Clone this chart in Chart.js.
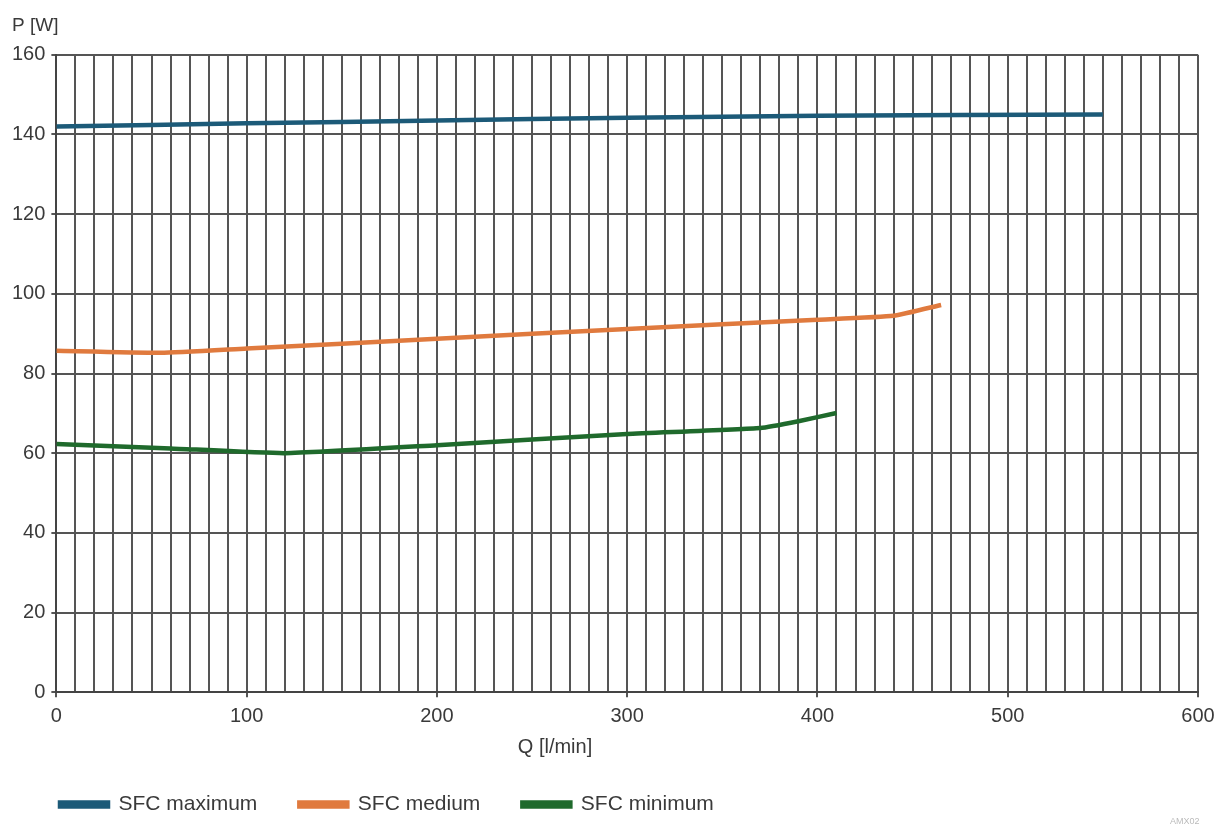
<!DOCTYPE html>
<html>
<head>
<meta charset="utf-8">
<script src="https://cdn.jsdelivr.net/npm/chart.js@4.4.1/dist/chart.umd.min.js"></script>
<style>
  html, body { margin: 0; padding: 0; background: #fff; }
  #wrap { width: 1220px; height: 825px; }
</style>
</head>
<body>
<div id="wrap"><canvas id="pumpChart" width="1220" height="825"></canvas></div>
<script>
// flow Q [l/min] and power P [W]
const qMax = [0, 100, 200, 300, 400, 550];
const pMax = [142.0, 142.8, 143.5, 144.2, 144.7, 145.0];

const qMed = [0, 55, 100, 200, 300, 400, 440, 465];
const pMed = [85.7, 85.2, 86.3, 88.7, 91.2, 93.5, 94.5, 97.2];

const qMin = [0, 60, 120, 200, 300, 370, 390, 410];
const pMin = [62.3, 61.2, 60.0, 62.0, 64.8, 66.3, 68.0, 70.1];

const xTicks = [0, 100, 200, 300, 400, 500, 600];
const yTicks = [0, 20, 40, 60, 80, 100, 120, 140, 160];

function pts(xs, ys) {
    return xs.map(function (x, i) { return { x: x, y: ys[i] }; });
}

const textColor = '#3a3a3a';
const family = "'Liberation Sans', Arial, sans-serif";
const font = { family: family, size: 20 };

// x axis title sits left of centre in the original, plus the small code bottom right
const extraText = {
    id: 'extraText',
    afterLayout: function (chart) {
        // legend and "P [W]" start a bit further right than the y labels
        chart.legend.left += 12;
        chart.titleBlock.left += 6;
    },
    afterDraw: function (chart) {
        const c = chart.ctx;
        c.save();
        c.fillStyle = textColor;
        c.font = "20px " + family;
        c.textAlign = 'center';
        c.textBaseline = 'middle';
        c.fillText('Q [l/min]', 555, 747);
        c.fillStyle = '#bbb';
        c.font = "9px " + family;
        c.textAlign = 'left';
        c.fillText('AMX02', 1170, 822);
        c.restore();
    }
};

const ctx = document.getElementById('pumpChart').getContext('2d');
const chart = new Chart(ctx, {
    type: 'line',
    data: {
        datasets: [
            { label: 'SFC maximum', data: pts(qMax, pMax), borderColor: '#1c5a78', backgroundColor: '#1c5a78' },
            { label: 'SFC medium', data: pts(qMed, pMed), borderColor: '#e07a3e', backgroundColor: '#e07a3e' },
            { label: 'SFC minimum', data: pts(qMin, pMin), borderColor: '#1f6a2c', backgroundColor: '#1f6a2c' }
        ]
    },
    options: {
        responsive: false,
        animation: false,
        layout: { padding: { left: 6, right: 22, top: 0, bottom: 0 } },
        elements: {
            line: { borderWidth: 4.5, tension: 0.15 },
            point: { radius: 0 }
        },
        scales: {
            x: {
                type: 'linear',
                min: 0, max: 600,
                ticks: {
                    stepSize: 10,
                    autoSkip: false,
                    color: textColor,
                    font: font,
                    maxRotation: 0,
                    padding: 7,
                    callback: function (v) { return xTicks.includes(v) ? String(v) : ''; }
                },
                grid: {
                    color: '#555',
                    lineWidth: 2,
                    tickLength: 5,
                    tickColor: function (c) { return xTicks.includes(c.tick.value) ? '#555' : 'rgba(0,0,0,0)'; }
                },
                border: { color: '#444', width: 2 },
                title: { display: true, text: ' ', font: { size: 14 }, padding: { top: 0, bottom: 0 } },
                afterFit: function (scale) { scale.paddingRight = 0; }
            },
            y: {
                min: 0, max: 160,
                ticks: { stepSize: 20, color: textColor, font: font, padding: 6 },
                grid: { color: '#555', lineWidth: 2, tickLength: 5 },
                border: { color: '#444', width: 2 }
            }
        },
        plugins: {
            title: {
                display: true,
                text: 'P [W]',
                align: 'start',
                color: textColor,
                font: { family: family, size: 19, weight: 'normal' },
                padding: { top: 14, bottom: 18 }
            },
            legend: {
                position: 'bottom',
                align: 'start',
                labels: {
                    color: textColor,
                    font: { family: family, size: 21 },
                    boxWidth: 48,
                    boxHeight: 4,
                    padding: 42
                }
            },
            tooltip: { enabled: false }
        }
    },
    plugins: [extraText]
});
</script>
</body>
</html>
